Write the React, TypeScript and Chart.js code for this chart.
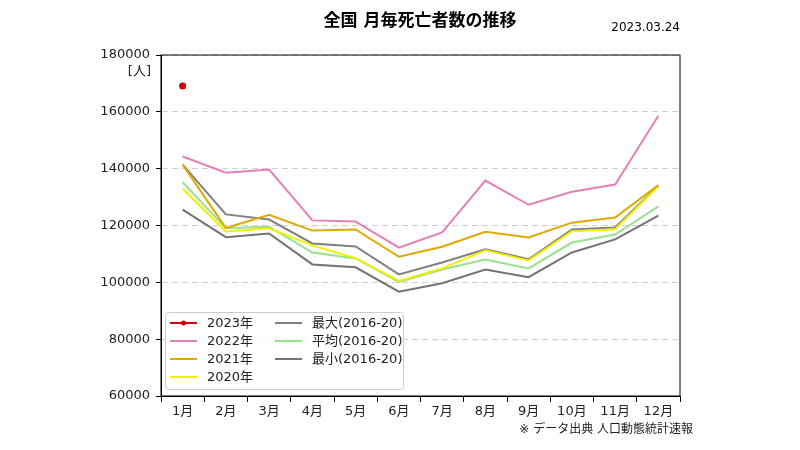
import { useEffect, useRef } from "react";
import { Chart, registerables } from "chart.js";

Chart.register(...registerables);

const FONT = '"DejaVu Sans", "Noto Sans CJK JP", sans-serif';

const months = ["1月", "2月", "3月", "4月", "5月", "6月", "7月", "8月", "9月", "10月", "11月", "12月"];
const yTicks = [60000, 80000, 100000, 120000, 140000, 160000, 180000];

const y2023 = [169100, null, null, null, null, null, null, null, null, null, null, null];
const y2022 = [144300, 138600, 139700, 121800, 121400, 112200, 117600, 135800, 127300, 131900, 134400, 158600];
const y2021 = [141400, 119100, 123800, 118200, 118600, 109000, 112500, 117800, 115800, 121000, 122800, 134200];
const y2020 = [133000, 117900, 119000, 113000, 108500, 100500, 104900, 111300, 107700, 118000, 118700, 133800];
const max1620 = [141400, 123900, 122100, 113700, 112600, 102800, 107000, 111600, 108100, 118600, 119300, 134000];
const avg1620 = [135200, 119000, 119600, 110500, 108400, 100100, 104500, 108000, 104900, 114000, 116800, 126700];
const min1620 = [125600, 115900, 117200, 106300, 105300, 96700, 99700, 104500, 101800, 110500, 115100, 123500];

const series = [
    { label: "2023年", data: y2023, color: "#d40000", point: true },
    { label: "2022年", data: y2022, color: "#e57fb8", point: false },
    { label: "2021年", data: y2021, color: "#e0a800", point: false },
    { label: "2020年", data: y2020, color: "#f0f000", point: false },
    { label: "最大(2016-20)", data: max1620, color: "#808080", point: false },
    { label: "平均(2016-20)", data: avg1620, color: "#99e08f", point: false },
    { label: "最小(2016-20)", data: min1620, color: "#737373", point: false },
];

const textPlugin = {
    id: "extraTexts",
    afterDraw(chart: Chart) {
        const ctx = chart.ctx;
        const { left, top, right, bottom } = chart.chartArea;
        ctx.save();
        // frame round the plot
        ctx.strokeStyle = "#000";
        ctx.lineWidth = 1;
        ctx.strokeRect(left, top, right - left, bottom - top);

        ctx.fillStyle = "#000";
        ctx.textBaseline = "middle";
        ctx.font = `bold 17px ${FONT}`;
        ctx.textAlign = "center";
        ctx.fillText("全国 月毎死亡者数の推移", 420, 22);

        ctx.font = `12px ${FONT}`;
        ctx.textAlign = "right";
        ctx.fillText("2023.03.24", right, 28);

        ctx.font = `13px ${FONT}`;
        ctx.fillStyle = "#222";
        ctx.fillText("[人]", left - 10, 72);

        ctx.font = `12px ${FONT}`;
        ctx.fillText("※ データ出典 人口動態統計速報", 693, 430);
        ctx.restore();
    },
};

const legendPlugin = {
    id: "boxLegend",
    afterDraw(chart: Chart) {
        const ctx = chart.ctx;
        const { left, bottom } = chart.chartArea;
        const x0 = left + 4;
        const y0 = bottom - 84;
        ctx.save();
        ctx.fillStyle = "rgba(255,255,255,0.85)";
        ctx.strokeStyle = "#cccccc";
        ctx.lineWidth = 1;
        ctx.beginPath();
        ctx.roundRect(x0 + 0.5, y0 + 0.5, 238, 77, 3);
        ctx.fill();
        ctx.stroke();

        ctx.font = `13px ${FONT}`;
        ctx.textBaseline = "middle";
        ctx.textAlign = "left";
        chart.data.datasets.forEach((ds: any, i: number) => {
            const col = i < 4 ? 0 : 1;
            const row = i < 4 ? i : i - 4;
            const lx = x0 + 5 + col * 105;
            const ly = y0 + 11 + row * 18;
            ctx.strokeStyle = ds.borderColor;
            ctx.lineWidth = 2;
            ctx.beginPath();
            ctx.moveTo(lx, ly);
            ctx.lineTo(lx + 27, ly);
            ctx.stroke();
            if (ds.pointRadius > 0) {
                ctx.fillStyle = ds.borderColor;
                ctx.beginPath();
                ctx.arc(lx + 13.5, ly, 2.5, 0, Math.PI * 2);
                ctx.fill();
            }
            ctx.fillStyle = "#222";
            ctx.fillText(ds.label, lx + 37, ly + 1);
        });
        ctx.restore();
    },
};

const App: React.FC = () => {
    const chartRef = useRef<HTMLCanvasElement>(null);

    useEffect(() => {
        if (!chartRef.current) return;
        const ctx = chartRef.current.getContext("2d");
        if (!ctx) return;

        const chart = new Chart(ctx, {
            type: "line",
            data: {
                labels: months,
                datasets: series.map((s) => ({
                    label: s.label,
                    data: s.data,
                    borderColor: s.color,
                    backgroundColor: s.color,
                    borderWidth: 2,
                    pointRadius: s.point ? 2.5 : 0,
                    pointHoverRadius: s.point ? 2.5 : 0,
                    tension: 0,
                    spanGaps: false,
                })),
            },
            options: {
                animation: false,
                responsive: true,
                maintainAspectRatio: false,
                layout: {
                    padding: { left: 100, right: 120, top: 55, bottom: 29 },
                },
                plugins: {
                    legend: { display: false },
                    title: { display: false },
                    tooltip: { enabled: false },
                },
                scales: {
                    x: {
                        offset: true,
                        grid: {
                            offset: true,
                            drawOnChartArea: false,
                            drawTicks: true,
                            tickLength: 6,
                            tickColor: "#000",
                        },
                        border: { display: true, color: "#000" },
                        ticks: {
                            color: "#222",
                            padding: 2,
                            font: { family: FONT, size: 13 },
                            maxRotation: 0,
                            autoSkip: false,
                        },
                        afterFit: (scale: any) => {
                            scale.height = 25;
                        },
                    },
                    y: {
                        min: 60000,
                        max: 180000,
                        afterBuildTicks: (scale: any) => {
                            scale.ticks = yTicks.map((v) => ({ value: v }));
                        },
                        grid: {
                            color: "#d0d0d0",
                            tickColor: "#000",
                            tickLength: 5,
                        },
                        border: { display: true, color: "#000", dash: [6, 4] },
                        ticks: {
                            color: "#222",
                            padding: 6,
                            font: { family: FONT, size: 13 },
                            callback: (value: any) => String(value),
                        },
                        afterFit: (scale: any) => {
                            scale.width = 61;
                        },
                    },
                },
            },
            plugins: [textPlugin, legendPlugin],
        });

        return () => {
            chart.destroy();
        };
    }, []);

    return (
        <div style={{ position: "fixed", left: 0, top: 0, width: 800, height: 450, background: "#fff" }}>
            <canvas ref={chartRef}></canvas>
        </div>
    );
};

export default App;
